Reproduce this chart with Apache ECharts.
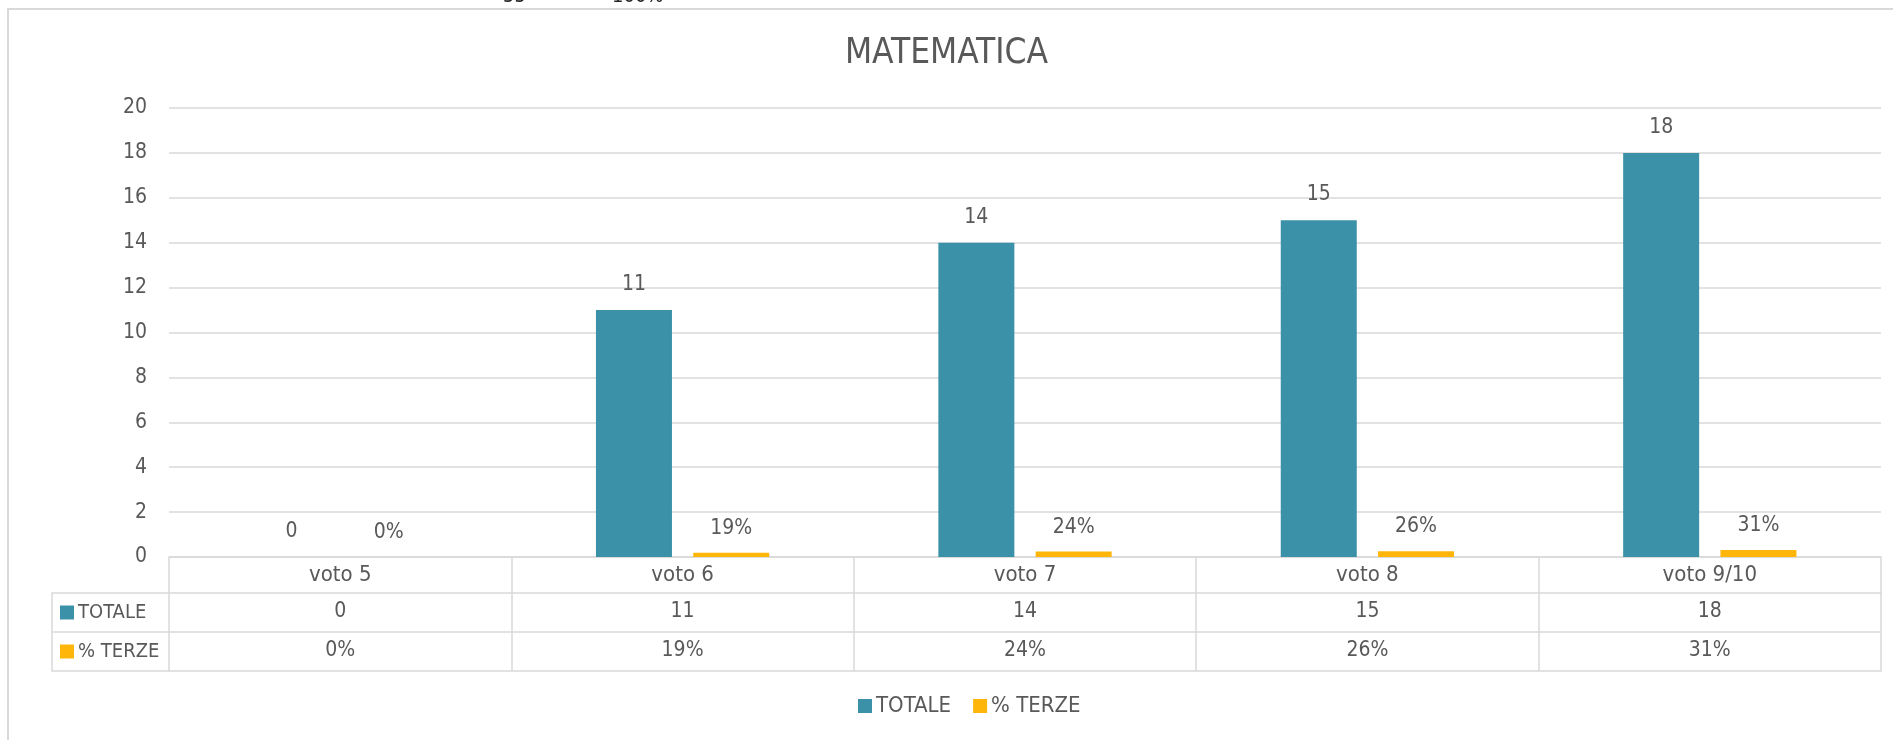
<!DOCTYPE html>
<html>
<head>
<meta charset="utf-8">
<title>MATEMATICA</title>
<script src="https://cdn.jsdelivr.net/npm/echarts@6/dist/echarts.min.js"></script>
<style>
    html, body { margin: 0; padding: 0; background: #fff; }
    #chart { width: 1893px; height: 740px; }
</style>
</head>
<body>
<div id="chart"></div>
<script>
// dati del grafico
const categorie = ['voto 5', 'voto 6', 'voto 7', 'voto 8', 'voto 9/10']
const totale = [0, 11, 14, 15, 18]
const terze = [0, 0.19, 0.24, 0.26, 0.31] // % TERZE come frazione
const serieNomi = ['TOTALE', '% TERZE']
const yTicks = [0, 2, 4, 6, 8, 10, 12, 14, 16, 18, 20]
const rigaSopra = ['55', '100%'] // riga tagliata della tabella precedente

const FONT = '"Liberation Sans Narrow", "DejaVu Sans Condensed", "Roboto", sans-serif'
const GRIGIO = '#595959'
const LINEA = '#d9d9d9'
const COLORI = ['#3a91a8', '#ffb60a']

const perc = v => Math.round(v * 100) + '%'

const chartDom = document.getElementById('chart')
const myChart = echarts.init(chartDom)

const grid = { left: 169, right: 12, top: 108, bottom: 183 }

// righe della tabella dati sotto il grafico
const rowAxis = (data, offset, show) => ({
    type: 'category',
    position: 'bottom',
    offset: offset,
    data: data,
    axisLine: { show: true, lineStyle: { color: LINEA, width: 1.5 } },
    axisTick: { show: false },
    axisLabel: { show: show, color: GRIGIO, fontSize: 21, fontFamily: FONT, margin: 8, interval: 0 },
    splitLine: { show: false }
})

const option = {
    backgroundColor: '#fff',
    color: COLORI,
    title: {
        text: 'MATEMATICA',
        left: 'center',
        top: 31,
        textStyle: { color: GRIGIO, fontSize: 35, fontWeight: 'normal', fontFamily: FONT }
    },
    legend: {
        data: serieNomi,
        left: 853,
        top: 690,
        icon: 'rect',
        itemWidth: 14,
        itemHeight: 14,
        itemGap: 22,
        textStyle: { color: GRIGIO, fontSize: 22, fontFamily: FONT, padding: [0, 0, 0, -1] }
    },
    grid: grid,
    xAxis: [
        {
            type: 'category',
            data: categorie,
            axisLine: { show: true, lineStyle: { color: LINEA, width: 1.5 } },
            axisTick: { show: true, length: 114, inside: false, lineStyle: { color: LINEA, width: 1.5 } },
            axisLabel: { color: GRIGIO, fontSize: 22, fontFamily: FONT, margin: 7, interval: 0 },
            splitLine: { show: false }
        },
        rowAxis(totale.map(String), 36, true),
        rowAxis(terze.map(perc), 75, true),
        rowAxis(categorie.map(() => ''), 114, false)
    ],
    yAxis: {
        type: 'value',
        min: yTicks[0],
        max: yTicks[yTicks.length - 1],
        interval: 2,
        axisLine: { show: false },
        axisTick: { show: false },
        axisLabel: { color: GRIGIO, fontSize: 21, fontFamily: FONT, margin: 22 },
        splitLine: { lineStyle: { color: LINEA, width: 1.5 } }
    },
    series: [
        {
            name: serieNomi[0],
            type: 'bar',
            data: totale,
            barWidth: 76,
            barGap: '28%',
            label: { show: true, position: 'top', distance: 15, color: GRIGIO, fontSize: 21, fontFamily: FONT }
        },
        {
            name: serieNomi[1],
            type: 'bar',
            data: terze,
            barWidth: 76,
            barGap: '28%',
            label: {
                show: true, position: 'top', distance: 14, color: GRIGIO, fontSize: 21, fontFamily: FONT,
                formatter: p => perc(p.value)
            }
        }
    ],
    graphic: []
}

myChart.setOption(option)

// colonna legenda della tabella, cornice e testo tagliato in alto
const x0 = 52
const xL = grid.left
const righe = [593, 632, 671]
const g = [
    { type: 'rect', shape: { x: 8, y: 9, width: 1950, height: 800 }, style: { fill: 'none', stroke: LINEA, lineWidth: 2 }, silent: true },
    { type: 'polyline', shape: { points: [[xL, righe[0]], [x0, righe[0]], [x0, righe[2]], [xL, righe[2]]] }, style: { fill: 'none', stroke: LINEA, lineWidth: 1.5 } },
    { type: 'line', shape: { x1: x0, y1: righe[1], x2: xL, y2: righe[1] }, style: { stroke: LINEA, lineWidth: 1.5 } }
]
serieNomi.forEach((nome, i) => {
    const yc = (righe[i] + righe[i + 1]) / 2
    g.push({ type: 'rect', shape: { x: 60, y: yc - 7, width: 14, height: 14 }, style: { fill: COLORI[i] } })
    g.push({ type: 'text', x: 78, y: yc, style: { text: nome, fill: GRIGIO, fontSize: 20, fontFamily: FONT, verticalAlign: 'middle' } })
})
rigaSopra.forEach((t, i) => {
    g.push({ type: 'text', x: [503, 612][i], y: 7, style: { text: t, fill: '#222', fontSize: 20, fontFamily: FONT, verticalAlign: 'bottom' } })
})
myChart.setOption({ graphic: g })

window.addEventListener('resize', () => {
    myChart.resize()
})
</script>
</body>
</html>
